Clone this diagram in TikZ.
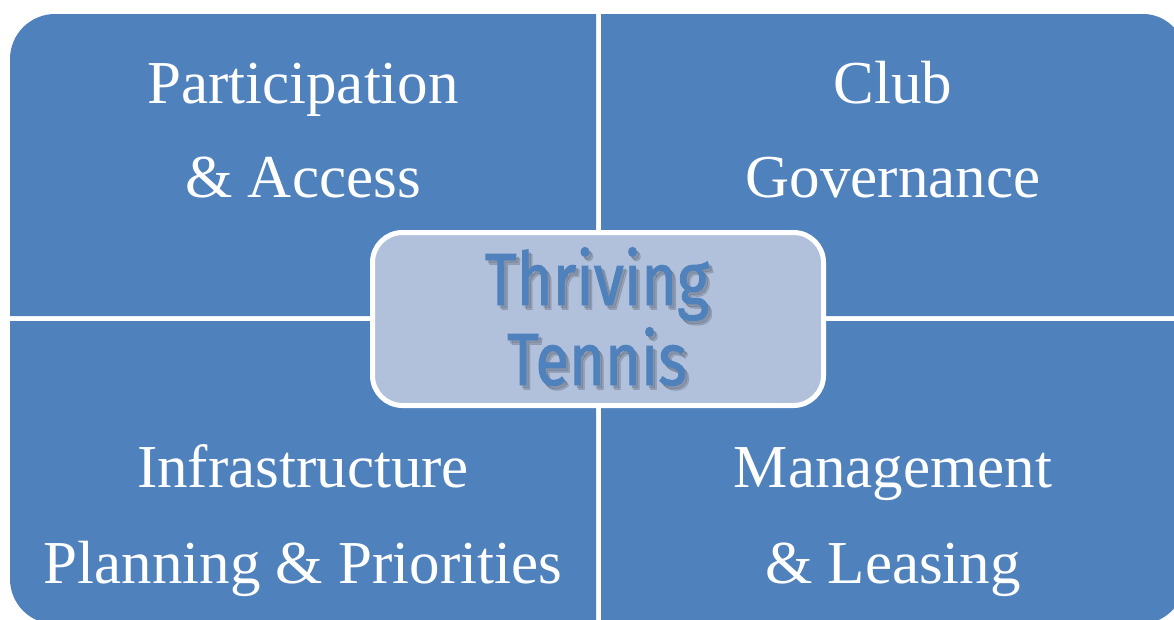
\documentclass[tikz,border=0pt]{standalone}
\usepackage{fontspec}
\setmainfont{Liberation Serif}
\newfontfamily\dinfont[FakeStretch=0.83,FakeBold=1.2]{Fira Sans}
\definecolor{qblue}{HTML}{4F81BD}
\definecolor{cfill}{HTML}{B1C1DC}
\begin{document}
\begin{tikzpicture}[x=1pt,y=1pt,
  quad/.style={fill=qblue},
  qtext/.style={text=white,font=\fontsize{61}{61}\selectfont,inner sep=0pt,anchor=base},
  ctext/.style={text=qblue,font=\dinfont\fontsize{74}{74}\selectfont,inner sep=0pt,anchor=base},
  cshadow/.style={ctext,text=black,text opacity=0.12},
  centerbox/.style={draw=white,line width=5pt,fill=cfill,rounded corners=30pt,minimum width=451pt,minimum height=173pt,inner sep=0pt}]
\useasboundingbox (0,0) rectangle (1174,-619);
\clip (0,0) rectangle (1174,-619);
\fill[white] (0,0) rectangle (1174,-619);
% quadrants
\fill[quad] (10,-316) -- (10,-59) arc[start angle=180,end angle=90,radius=45] -- (596,-14) -- (596,-316) -- cycle;
\fill[quad] (601,-316) -- (601,-14) -- (1143,-14) arc[start angle=90,end angle=0,radius=42] -- (1185,-316) -- cycle;
\fill[quad] (10,-321) -- (596,-321) -- (596,-624) -- (55,-624) arc[start angle=270,end angle=180,radius=45] -- cycle;
\fill[quad] (601,-321) -- (1185,-321) -- (1185,-579) arc[start angle=0,end angle=-90,radius=45] -- (601,-624) -- cycle;
% quadrant texts
\node[qtext] (tl1) at (303,-103) {Participation};
\node[qtext] (tl2) at (303,-197) {\& Access};
\node[qtext] (tr1) at (893,-103) {Club};
\node[qtext] (tr2) at (893,-197) {Governance};
\node[qtext] (bl1) at (303,-487) {Infrastructure};
\node[qtext] (bl2) at (303,-583) {Planning \& Priorities};
\node[qtext] (br1) at (893,-487) {Management};
\node[qtext] (br2) at (893,-583) {\& Leasing};
% centre
\node[centerbox] (centre) at (598,-319) {};
\node[cshadow] (s1) at (599.5,-308) {Thriving};
\node[cshadow] (s2) at (599.5,-388) {Tennis};
\node[cshadow] (s3) at (601,-309.5) {Thriving};
\node[cshadow] (s4) at (601,-389.5) {Tennis};
\node[ctext] (c1) at (597,-305) {Thriving};
\node[ctext] (c2) at (597,-385) {Tennis};
\end{tikzpicture}
\end{document}
